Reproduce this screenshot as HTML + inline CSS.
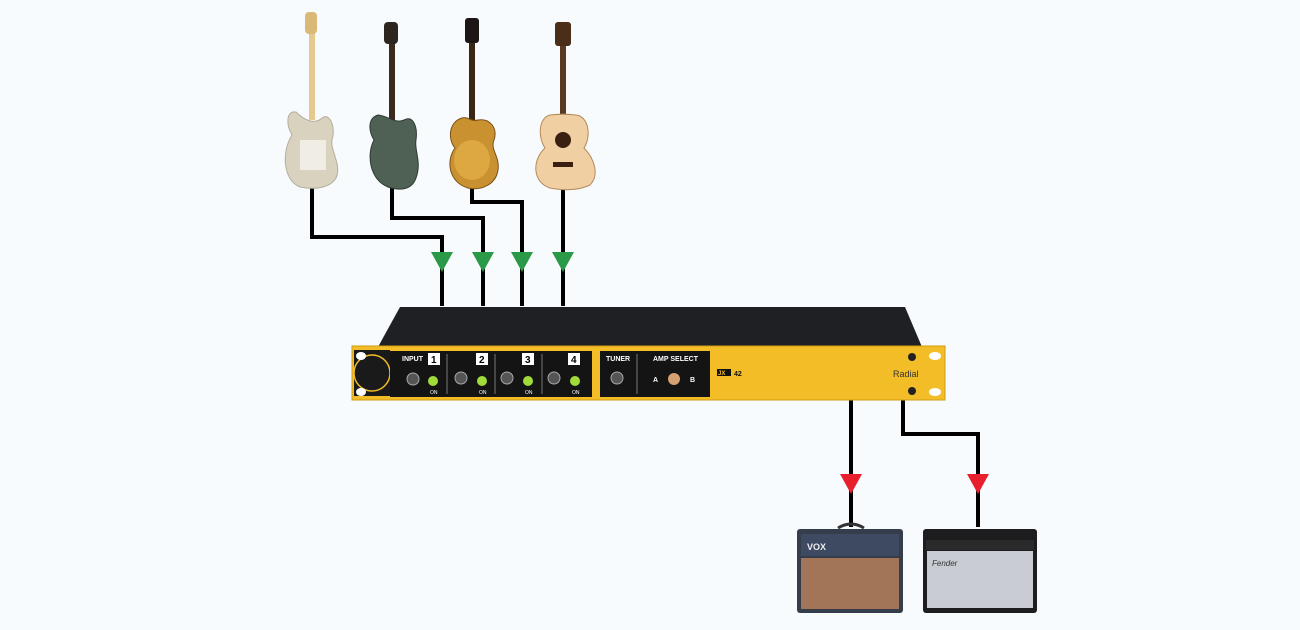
<!DOCTYPE html>
<html><head><meta charset="utf-8"><style>
html,body{margin:0;padding:0;background:#f8fbfe;}
svg{display:block;font-family:"Liberation Sans",sans-serif;}
</style></head><body>
<svg width="1300" height="630" viewBox="0 0 1300 630" xmlns="http://www.w3.org/2000/svg">
<rect width="1300" height="630" fill="#f8fbfe"/>
<!-- cables -->
<g stroke="#000" stroke-width="4" fill="none">
<polyline points="312,188 312,237 442,237 442,306"/>
<polyline points="392,188 392,218 483,218 483,306"/>
<polyline points="472,186 472,202 522,202 522,306"/>
<polyline points="563,186 563,306"/>
<polyline points="851,398 851,527"/>
<polyline points="903,398 903,434 978,434 978,527"/>
</g>
<g fill="#2a9a48">
<polygon points="431,252 453,252 442,272"/>
<polygon points="472,252 494,252 483,272"/>
<polygon points="511,252 533,252 522,272"/>
<polygon points="552,252 574,252 563,272"/>
</g>
<g fill="#e8202e">
<polygon points="840,474 862,474 851,494"/>
<polygon points="967,474 989,474 978,494"/>
</g>
<!-- guitars -->
<g>
<!-- strat -->
<rect x="309" y="30" width="6" height="90" fill="#e6c98e"/>
<rect x="305" y="12" width="12" height="22" rx="4" fill="#d9b878"/>
<path d="M296,112 C286,110 286,125 292,135 C282,150 282,180 300,187 C315,190 330,188 336,178 C342,165 330,150 332,140 C336,128 330,112 322,118 C316,124 306,122 296,112Z" fill="#d8d2bf" stroke="#b4ae9c"/>
<rect x="300" y="140" width="26" height="30" fill="#f0ede4"/>
<!-- prs -->
<rect x="389" y="40" width="6" height="82" fill="#3a2a20"/>
<rect x="384" y="22" width="14" height="22" rx="4" fill="#2d2520"/>
<path d="M378,115 C368,118 368,130 374,140 C366,155 370,180 388,187 C400,191 412,190 416,178 C422,162 414,150 416,140 C418,125 412,115 404,120 C396,124 388,116 378,115Z" fill="#4f6054" stroke="#2e3a32"/>
<!-- les paul -->
<rect x="469" y="40" width="6" height="85" fill="#3a2614"/>
<rect x="465" y="18" width="14" height="25" rx="3" fill="#1c1714"/>
<path d="M462,118 C448,122 448,140 455,148 C446,160 448,182 468,188 C482,191 496,184 498,170 C500,156 490,150 494,140 C498,128 490,118 478,120 C470,122 468,116 462,118Z" fill="#c99130" stroke="#7a5018"/>
<ellipse cx="472" cy="160" rx="18" ry="20" fill="#e5b04a" opacity="0.7"/>
<!-- acoustic -->
<rect x="560" y="42" width="6" height="78" fill="#5a3a22"/>
<rect x="555" y="22" width="16" height="24" rx="3" fill="#4a2e1a"/>
<path d="M550,115 C538,118 538,138 545,148 C532,160 532,182 550,188 C565,191 580,190 590,185 C600,175 594,158 584,148 C592,135 588,116 576,115 C568,114 558,114 550,115Z" fill="#f0cfa3" stroke="#b48a5c"/>
<circle cx="563" cy="140" r="8" fill="#3a2010"/>
<rect x="553" y="162" width="20" height="5" fill="#3a2010"/>
</g>
<!-- device -->
<polygon points="400,307 905,307 922,347 378,347" fill="#1e2024"/>
<rect x="352" y="346" width="593" height="54" fill="#f2bd27" stroke="#d19c10"/>
<rect x="354" y="350" width="36" height="46" fill="#1a1a1a"/>
<circle cx="372" cy="373" r="18" fill="none" stroke="#f2bd27" stroke-width="1.5"/>
<rect x="390" y="351" width="202" height="46" fill="#141414"/>
<rect x="600" y="351" width="110" height="46" fill="#141414"/>
<g stroke="#777" stroke-width="1"><line x1="447" y1="354" x2="447" y2="394"/><line x1="495" y1="354" x2="495" y2="394"/><line x1="542" y1="354" x2="542" y2="394"/><line x1="637" y1="354" x2="637" y2="394"/></g>
<g font-size="7" font-weight="bold" fill="#fff">
<text x="402" y="361">INPUT</text>
<text x="606" y="361">TUNER</text>
<text x="653" y="361">AMP SELECT</text>
<text x="653" y="382">A</text><text x="690" y="382">B</text>
</g>
<g font-size="10" font-weight="bold" fill="#000">
<rect x="428" y="353" width="12" height="12" fill="#fff"/><text x="431" y="363">1</text>
<rect x="476" y="353" width="12" height="12" fill="#fff"/><text x="479" y="363">2</text>
<rect x="522" y="353" width="12" height="12" fill="#fff"/><text x="525" y="363">3</text>
<rect x="568" y="353" width="12" height="12" fill="#fff"/><text x="571" y="363">4</text>
</g>
<g fill="#555" stroke="#aaa"><circle cx="413" cy="379" r="6"/><circle cx="461" cy="378" r="6"/><circle cx="507" cy="378" r="6"/><circle cx="554" cy="378" r="6"/><circle cx="617" cy="378" r="6"/></g>
<g fill="#9fdc3a"><circle cx="433" cy="381" r="5"/><circle cx="482" cy="381" r="5"/><circle cx="528" cy="381" r="5"/><circle cx="575" cy="381" r="5"/></g>
<circle cx="674" cy="379" r="6" fill="#d7a070"/>
<g font-size="5" fill="#fff"><text x="430" y="394">ON</text><text x="479" y="394">ON</text><text x="525" y="394">ON</text><text x="572" y="394">ON</text></g>
<rect x="717" y="369" width="14" height="7" fill="#111"/>
<text x="718" y="375" font-size="6" font-weight="bold" fill="#f2bd27">JX</text>
<text x="734" y="376" font-size="7" font-weight="bold" fill="#111">42</text>
<text x="893" y="377" font-size="9" fill="#333">Radial</text>
<circle cx="912" cy="357" r="4" fill="#222"/><circle cx="912" cy="391" r="4" fill="#222"/>
<ellipse cx="935" cy="356" rx="6" ry="4" fill="#fff"/><ellipse cx="935" cy="392" rx="6" ry="4" fill="#fff"/>
<ellipse cx="361" cy="356" rx="5" ry="4" fill="#fff"/><ellipse cx="361" cy="392" rx="5" ry="4" fill="#fff"/>
<!-- vox amp -->
<path d="M838,528 q13,-8 26,0" stroke="#333" stroke-width="3" fill="none"/>
<rect x="797" y="529" width="106" height="84" rx="3" fill="#353c4a"/>
<rect x="801" y="558" width="98" height="51" fill="#a27458"/>
<rect x="801" y="534" width="98" height="22" fill="#3e4a62"/>
<text x="807" y="550" font-size="9" font-weight="bold" fill="#eee">VOX</text>
<!-- fender amp -->
<rect x="923" y="529" width="114" height="84" rx="3" fill="#1d1d1f"/>
<rect x="926" y="540" width="108" height="10" fill="#2a2a2a"/>
<rect x="927" y="551" width="106" height="57" fill="#c9cdd3"/>
<text x="932" y="566" font-size="8" font-style="italic" fill="#333">Fender</text>
</svg>
</body></html>
